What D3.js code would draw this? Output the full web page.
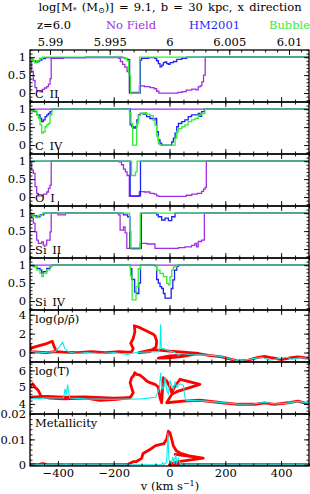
<!DOCTYPE html>
<html>
<head>
<meta charset="utf-8">
<script src="https://cdn.jsdelivr.net/npm/d3@7"></script>
<style>
  body { margin: 0; background: #fff; }
  svg text { font-family: "DejaVu Serif", serif; fill: #000; }
</style>
</head>
<body>
<svg id="chart" width="310" height="494"></svg>
<script>
// ---- data: [v (km/s), value] ----
const ciiNoField = [[-500,0.88],[-494,0.6],[-488,0.35],[-482,0.15],[-476,0.06],[-464,0.03],[-456,0.1],[-448,0.14],[-440,0.18],[-434,0.25],[-428,0.4],[-424,0.97],[-380,0.99],[-182,0.97],[-176,0.88],[-168,0.8],[-160,0.72],[-152,0.6],[-144,0.02],[-108,0.2],[-90,0.18],[-70,0.15],[-55,0.12],[-46,0.05],[-38,0.0],[30,0.02],[45,0.04],[60,0.08],[80,0.11],[95,0.09],[103,0.17],[110,0.2],[116,0.31],[122,0.5],[128,1.0],[500,1.0]];
const ciiHM = [[-500,0.95],[-490,0.9],[-482,0.86],[-474,0.88],[-466,0.92],[-458,0.96],[-445,0.99],[-300,1.0],[-170,0.99],[-160,0.96],[-150,0.93],[-143,0.0],[-108,0.0],[-105,0.92],[-100,0.97],[-75,0.99],[-52,0.96],[-46,0.9],[-40,0.82],[-34,0.73],[-28,0.78],[-22,0.85],[-16,0.87],[-10,0.82],[-4,0.8],[2,0.85],[14,0.88],[26,0.94],[44,0.97],[62,1.0],[500,1.0]];
const ciiBubble = [[-500,0.95],[-492,0.9],[-484,0.84],[-476,0.9],[-466,0.97],[-455,1.0],[-180,1.0],[-165,0.97],[-152,0.9],[-146,0.5],[-140,0.0],[-110,0.0],[-107,1.0],[500,1.0]];

const civNoField = [[-500,1.0],[500,1.0]];
const civHM = [[-500,0.96],[-488,0.93],[-476,0.84],[-464,0.74],[-458,0.65],[-452,0.7],[-446,0.79],[-440,0.84],[-434,0.88],[-428,0.93],[-422,1.0],[-150,1.0],[-141,0.56],[-135,0.51],[-129,0.47],[-123,0.51],[-117,0.7],[-111,0.84],[-105,0.88],[-94,0.86],[-82,0.79],[-70,0.74],[-58,0.7],[-52,0.74],[-46,0.37],[-40,0.14],[-34,0.05],[-28,0.0],[2,0.0],[8,0.09],[14,0.19],[20,0.33],[26,0.51],[32,0.6],[44,0.65],[55,0.7],[67,0.79],[79,0.84],[91,0.84],[103,0.88],[109,0.8],[115,0.93],[125,1.0],[500,1.0]];
const civBubble = [[-500,0.96],[-488,0.95],[-476,0.84],[-470,0.74],[-464,0.56],[-458,0.33],[-452,0.37],[-446,0.51],[-440,0.56],[-434,0.6],[-428,0.84],[-422,1.0],[-150,1.0],[-144,0.9],[-138,0.6],[-132,0.0],[-118,0.6],[-112,0.82],[-105,0.88],[-94,0.9],[-82,0.86],[-70,0.82],[-58,0.7],[-52,0.55],[-46,0.25],[-40,0.03],[-34,0.0],[14,0.0],[20,0.19],[26,0.37],[32,0.46],[44,0.51],[55,0.56],[67,0.65],[79,0.7],[91,0.74],[103,0.84],[115,0.88],[127,1.0],[500,1.0]];

const oiNoField = [[-500,0.95],[-494,0.75],[-488,0.66],[-482,0.29],[-476,0.1],[-470,0.03],[-452,0.08],[-440,0.14],[-434,0.24],[-428,0.33],[-424,1.0],[-182,0.98],[-172,0.9],[-165,0.78],[-158,0.7],[-152,0.6],[-144,0.02],[-108,0.15],[-90,0.14],[-70,0.1],[-55,0.08],[-46,0.03],[-38,0.02],[60,0.05],[80,0.08],[100,0.1],[115,0.16],[122,0.22],[128,0.27],[132,1.0],[500,1.0]];
const oiHM = [[-500,1.0],[-145,1.0],[-141,0.03],[-106,0.03],[-104,1.0],[500,1.0]];
const oiBubble = [[-500,1.0],[-140,1.0],[-136,0.6],[-122,0.7],[-116,1.0],[500,1.0]];

const siiiNoField = [[-500,1.0],[-494,0.86],[-488,0.72],[-482,0.48],[-476,0.25],[-470,0.16],[-458,0.2],[-452,0.11],[-440,0.25],[-428,0.48],[-424,1.0],[-400,0.95],[-373,1.0],[-183,0.95],[-177,0.53],[-165,0.62],[-159,0.45],[-153,0.02],[-105,0.16],[-80,0.14],[-52,0.02],[20,0.02],[32,0.04],[55,0.06],[79,0.1],[91,0.16],[97,0.06],[103,0.21],[115,0.25],[125,1.0],[500,1.0]];
const siiiHM = [[-500,0.97],[-490,0.93],[-476,0.9],[-464,0.95],[-450,1.0],[-180,1.0],[-165,0.95],[-150,0.9],[-142,0.02],[-104,0.02],[-101,1.0],[-46,0.95],[-40,0.9],[-28,0.81],[-16,0.86],[-4,0.79],[8,0.9],[20,1.0],[500,1.0]];
const siiiBubble = [[-500,0.97],[-490,0.92],[-480,0.88],[-470,0.93],[-455,1.0],[-150,1.0],[-143,0.5],[-138,0.0],[-108,0.0],[-105,1.0],[500,1.0]];

const siivNoField = [[-500,1.0],[500,1.0]];
const siivHM = [[-500,1.0],[-488,0.96],[-476,0.91],[-464,0.87],[-458,0.77],[-452,0.82],[-440,0.91],[-428,0.96],[-422,1.0],[-150,1.0],[-140,0.9],[-135,0.6],[-125,0.25],[-118,0.21],[-110,0.5],[-104,1.0],[-52,0.98],[-46,0.6],[-40,0.5],[-34,0.4],[-28,0.35],[-22,0.21],[-16,0.08],[6,0.35],[12,0.59],[18,0.86],[26,0.97],[32,1.0],[500,1.0]];
const siivBubble = [[-500,1.0],[-488,0.96],[-476,0.87],[-464,0.77],[-458,0.68],[-452,0.77],[-440,0.87],[-428,0.96],[-422,1.0],[-150,1.0],[-140,0.7],[-134,0.03],[-120,0.4],[-112,0.9],[-104,1.0],[-46,0.86],[-34,0.77],[-22,0.68],[-10,0.49],[-4,0.45],[2,0.68],[8,0.86],[14,0.95],[26,1.0],[500,1.0]];

// physical quantities along the sightline, in path order
const rhoRed = [[-500,0.9],[-498,0.1],[-470,0.05],[-440,0.0],[-410,0.1],[-380,0.05],[-330,0.0],[-280,0.1],[-230,0.0],[-180,0.1],[-150,0.05],[-136,0.07],[-130,0.42],[-139,0.96],[-130,1.49],[-124,2.2],[-126,2.84],[-106,2.63],[-82,2.27],[-58,1.93],[-52,1.75],[-46,1.22],[-48,0.59],[-70,0.1],[-110,0.0],[-60,0.3],[-40,0.25],[0,0.15],[50,0.05],[103,-0.1],[50,-0.4],[0,-0.55],[-40,-0.6],[0,-0.35],[60,-0.25],[109,-0.15],[140,-0.3],[187,-0.45],[246,-0.9],[282,-0.8],[318,-0.5],[341,-0.4],[365,-0.55],[401,-0.75],[437,-0.55],[460,-0.45],[484,-0.55],[500,-0.6]];
const rhoRedLoop = [[-500,0.45],[-470,0.7],[-440,0.95],[-420,1.2],[-413,0.6],[-405,0.1]];
const rhoCyan = [[-500,0.1],[-450,0.0],[-410,0.1],[-395,0.6],[-383,1.1],[-375,0.4],[-360,0.05],[-330,-0.1],[-300,0.0],[-250,-0.1],[-200,0.0],[-150,-0.2],[-120,0.0],[-80,0.05],[-40,0.1],[-34,0.5],[-32,2.96],[-29,0.4],[-20,0.42],[-4,0.2],[8,0.1],[20,0.0],[32,-0.3],[44,-0.1],[70,-0.2],[110,-0.25],[150,-0.3],[190,-0.45],[246,-0.9],[290,-0.7],[330,-0.5],[360,-0.8],[400,-0.6],[420,-0.5],[440,-0.7],[470,-0.55],[500,-0.6]];

const tRed = [[-500,5.0],[-490,5.2],[-482,5.0],[-470,4.8],[-460,4.45],[-430,4.35],[-380,4.3],[-300,4.35],[-249,4.22],[-189,4.28],[-141,4.37],[-130,4.67],[-136,4.97],[-141,5.27],[-136,5.56],[-130,5.66],[-124,5.86],[-118,5.76],[-106,5.72],[-94,5.56],[-82,5.37],[-70,5.27],[-52,5.17],[-40,5.01],[-34,4.37],[-28,4.07],[-22,5.56],[-10,5.37],[2,4.97],[8,4.67],[20,5.07],[38,5.47],[109,5.17],[26,4.73],[8,4.57],[-10,4.07],[49,4.17],[109,4.22],[187,4.07],[246,3.98],[306,3.98],[341,4.07],[377,3.98],[425,4.07],[460,4.17],[500,3.98]];
const tRedLow = [[-500,4.4],[-440,4.45],[-380,4.4],[-300,4.42],[-200,4.35],[-141,4.37]];
const tCyan = [[-500,4.3],[-440,4.35],[-380,4.35],[-374,4.9],[-370,4.55],[-365,5.15],[-358,4.35],[-300,4.3],[-200,4.28],[-100,4.3],[-50,4.4],[-36,4.9],[-32,5.86],[-26,4.9],[-20,5.0],[-16,5.6],[-10,4.8],[-4,4.6],[2,5.4],[8,5.1],[14,4.9],[20,5.3],[26,5.0],[38,5.2],[50,5.1],[55,4.4],[60,4.2],[80,4.2],[120,4.18],[190,4.08],[250,3.98],[300,4.0],[340,4.1],[380,4.0],[420,4.05],[460,4.15],[500,4.05]];

const zRed = [[-500,0.0002],[-470,0.0],[-455,0.0004],[-440,0.0001],[-420,0.0],[-150,0.0],[-141,0.0006],[-130,0.0012],[-120,0.0012],[-100,0.0025],[-95,0.0044],[-70,0.006],[-50,0.0075],[-20,0.0083],[-10,0.0102],[-4,0.0132],[2,0.0125],[8,0.01],[14,0.0074],[25,0.0054],[40,0.0045],[70,0.0035],[121,0.0026],[20,0.0041],[121,0.0026],[38,0.0013],[10,0.0005],[0,0.0],[500,0.0]];
const zCyan = [[-500,0.0],[-372,0.0],[-370,0.0004],[-368,0.0],[-30,0.0],[-25,0.0008],[-22,0.0],[-10,0.001],[-6,0.0125],[-2,0.002],[5,0.0005],[12,0.003],[16,0.0003],[22,0.004],[26,0.0008],[32,0.0025],[40,0.0],[500,0.0]];

// tick values
const specTicks = [0, 0.5, 1];
const rhoTicks = [0, 2, 4];
const tTicks = [4, 5, 6];
const zTicks = [0, 0.01, 0.02];
const vTicks = [-400, -200, 0, 200, 400];
const zTopTicks = [5.99, 5.995, 6, 6.005, 6.01];

const purple = "#a030e0", blue = "#1f1fff", green = "#33ee33", red = "#ff0000", cyan = "#00eeee";
const FONT = 11.5;

const svg = d3.select("#chart");
const W = 310, H = 494;
svg.append("rect").attr("width", W).attr("height", H).attr("fill", "#fff");

const x = d3.scaleLinear().domain([-500, 500]).range([30, 309]);
const top0 = 50, ph = 52;

const panels = [
  {label: "C\u2002II", dom: [-0.25, 1.2], ticks: specTicks, minor: 0.1, spec: [ciiNoField, ciiHM, ciiBubble]},
  {label: "C\u2002IV", dom: [-0.25, 1.2], ticks: specTicks, minor: 0.1, spec: [civNoField, civHM, civBubble]},
  {label: "O\u2002I", dom: [-0.25, 1.2], ticks: specTicks, minor: 0.1, spec: [oiNoField, oiHM, oiBubble]},
  {label: "Si\u2002II", dom: [-0.25, 1.2], ticks: specTicks, minor: 0.1, spec: [siiiNoField, siiiHM, siiiBubble]},
  {label: "Si\u2002IV", dom: [-0.25, 1.2], ticks: specTicks, minor: 0.1, spec: [siivNoField, siivHM, siivBubble]},
  {label: "log(\u03c1/\u03c1\u0304)", top: true, dom: [-1, 4.5], ticks: rhoTicks, minor: 0.5, red: [rhoRed, rhoRedLoop], cyan: rhoCyan},
  {label: "log(T)", top: true, dom: [3.4, 6.5], ticks: tTicks, minor: 0.2, red: [tRed, tRedLow], cyan: tCyan},
  {label: "Metallicity", top: true, dom: [-0.0005, 0.02], ticks: zTicks, minor: 0.002, red: [zRed], cyan: zCyan, fmt: d => d === 0 ? "0" : d3.format(".2")(d)}
];

const defs = svg.append("defs");

panels.forEach((p, i) => {
  const y0 = top0 + i * ph, y1 = y0 + ph;
  const y = d3.scaleLinear().domain(p.dom).range([y1, y0]);
  const g = svg.append("g");
  defs.append("clipPath").attr("id", "clip" + i)
    .append("rect").attr("x", 30).attr("y", y0).attr("width", 279).attr("height", ph);
  const plot = g.append("g").attr("clip-path", `url(#clip${i})`);

  if (p.spec) {
    const line = d3.line().x(d => x(d[0])).y(d => y(d[1])).curve(d3.curveStepAfter);
    [purple, blue, green].forEach((c, k) => {
      plot.append("path").datum(p.spec[k]).attr("d", line)
        .attr("fill", "none").attr("stroke", c).attr("stroke-width", 1.3);
    });
  } else {
    const line = d3.line().x(d => x(d[0])).y(d => y(d[1]));
    p.red.forEach(r => {
      plot.append("path").datum(r).attr("d", line)
        .attr("fill", "none").attr("stroke", red).attr("stroke-width", 2.8)
        .attr("stroke-linejoin", "round");
    });
    plot.append("path").datum(p.cyan).attr("d", line)
      .attr("fill", "none").attr("stroke", cyan).attr("stroke-width", 1.1);
  }

  // y axes (ticks pointing inward)
  const step = p.ticks[1] - p.ticks[0];
  const yMinor = d3.range(Math.ceil(p.dom[0] / p.minor) * p.minor, p.dom[1] + 1e-9, p.minor);
  const yMajor = d3.range(Math.ceil(p.dom[0] / step) * step, p.dom[1] + 1e-9, step);
  g.append("g").attr("transform", "translate(30,0)")
    .call(d3.axisLeft(y).tickValues(yMinor).tickSize(-2.5).tickFormat(""));
  g.append("g").attr("transform", "translate(30,0)")
    .call(d3.axisLeft(y).tickValues(yMajor).tickSize(-5).tickPadding(4).tickFormat(p.fmt || d3.format("")));
  g.append("g").attr("transform", "translate(309,0)")
    .call(d3.axisRight(y).tickValues(yMinor).tickSize(-2.5).tickFormat(""));
  g.append("g").attr("transform", "translate(309,0)")
    .call(d3.axisRight(y).tickValues(yMajor).tickSize(-5).tickFormat(""));

  // x ticks at bottom and top of each panel
  const vMinor = d3.range(-500, 501, 50);
  g.append("g").attr("transform", `translate(0,${y1})`)
    .call(d3.axisBottom(x).tickValues(vMinor).tickSize(-2.5).tickFormat(""));
  g.append("g").attr("transform", `translate(0,${y1})`)
    .call(d3.axisBottom(x).tickValues(vTicks).tickSize(-5).tickPadding(3)
      .tickFormat(i === panels.length - 1 ? (d => d < 0 ? "\u2212" + Math.abs(d) : d) : ""));
  if (i > 0) {
    g.append("g").attr("transform", `translate(0,${y0})`)
      .call(d3.axisTop(x).tickValues(vMinor).tickSize(-2.5).tickFormat(""));
    g.append("g").attr("transform", `translate(0,${y0})`)
      .call(d3.axisTop(x).tickValues(vTicks).tickSize(-5).tickFormat(""));
  }

  g.append("rect").attr("x", 30).attr("y", y0).attr("width", 279).attr("height", ph)
    .attr("fill", "none").attr("stroke", "#000").attr("stroke-width", 1.3);

  g.append("text").attr("x", 35).attr("y", p.top ? y0 + 13 : y1 - 4)
    .attr("font-size", FONT).text(p.label);
});

// redshift axis on top of the first panel
const c = 299792.458;
const zx = d3.scaleLinear().domain([6 + (-500) * 7 / c, 6 + 500 * 7 / c]).range([30, 309]);
const zMinor = d3.range(5.989, 6.0115, 0.001);
svg.append("g").attr("transform", `translate(0,${top0})`)
  .call(d3.axisTop(zx).tickValues(zMinor).tickSize(-2.5).tickFormat(""));
svg.append("g").attr("transform", `translate(0,${top0})`)
  .call(d3.axisTop(zx).tickValues(zTopTicks).tickSize(-5).tickPadding(4).tickFormat(d3.format("")));

svg.selectAll(".domain").remove();
svg.selectAll(".tick line").attr("stroke", "#000").attr("stroke-width", 0.9);
svg.selectAll(".tick text").attr("font-family", "DejaVu Serif").attr("font-size", FONT).attr("fill", "#000");

// header
const title = svg.append("text").attr("x", 170).attr("y", 11).attr("text-anchor", "middle")
  .attr("font-size", FONT).attr("word-spacing", 1.5);
title.append("tspan").text("log[M");
title.append("tspan").attr("dy", 2).attr("font-size", 8).text("*");
title.append("tspan").attr("dy", -2).text(" (M");
title.append("tspan").attr("dy", 2).attr("font-size", 8).text("\u2299");
title.append("tspan").attr("dy", -2).text(")] = 9.1, b = 30 kpc, x direction");

const legend = [["z=6.0", "#000", 37], ["No Field", purple, 106], ["HM2001", blue, 189], ["Bubble", green, 269]];
legend.forEach(l => {
  svg.append("text").attr("x", l[2]).attr("y", 29).attr("font-size", FONT).style("fill", l[1]).text(l[0]);
});

const xl = svg.append("text").attr("x", 170).attr("y", 490).attr("text-anchor", "middle").attr("font-size", FONT);
xl.append("tspan").text("v (km s");
xl.append("tspan").attr("dy", -4).attr("font-size", 8).text("\u22121");
xl.append("tspan").attr("dy", 4).text(")");
</script>
</body>
</html>
